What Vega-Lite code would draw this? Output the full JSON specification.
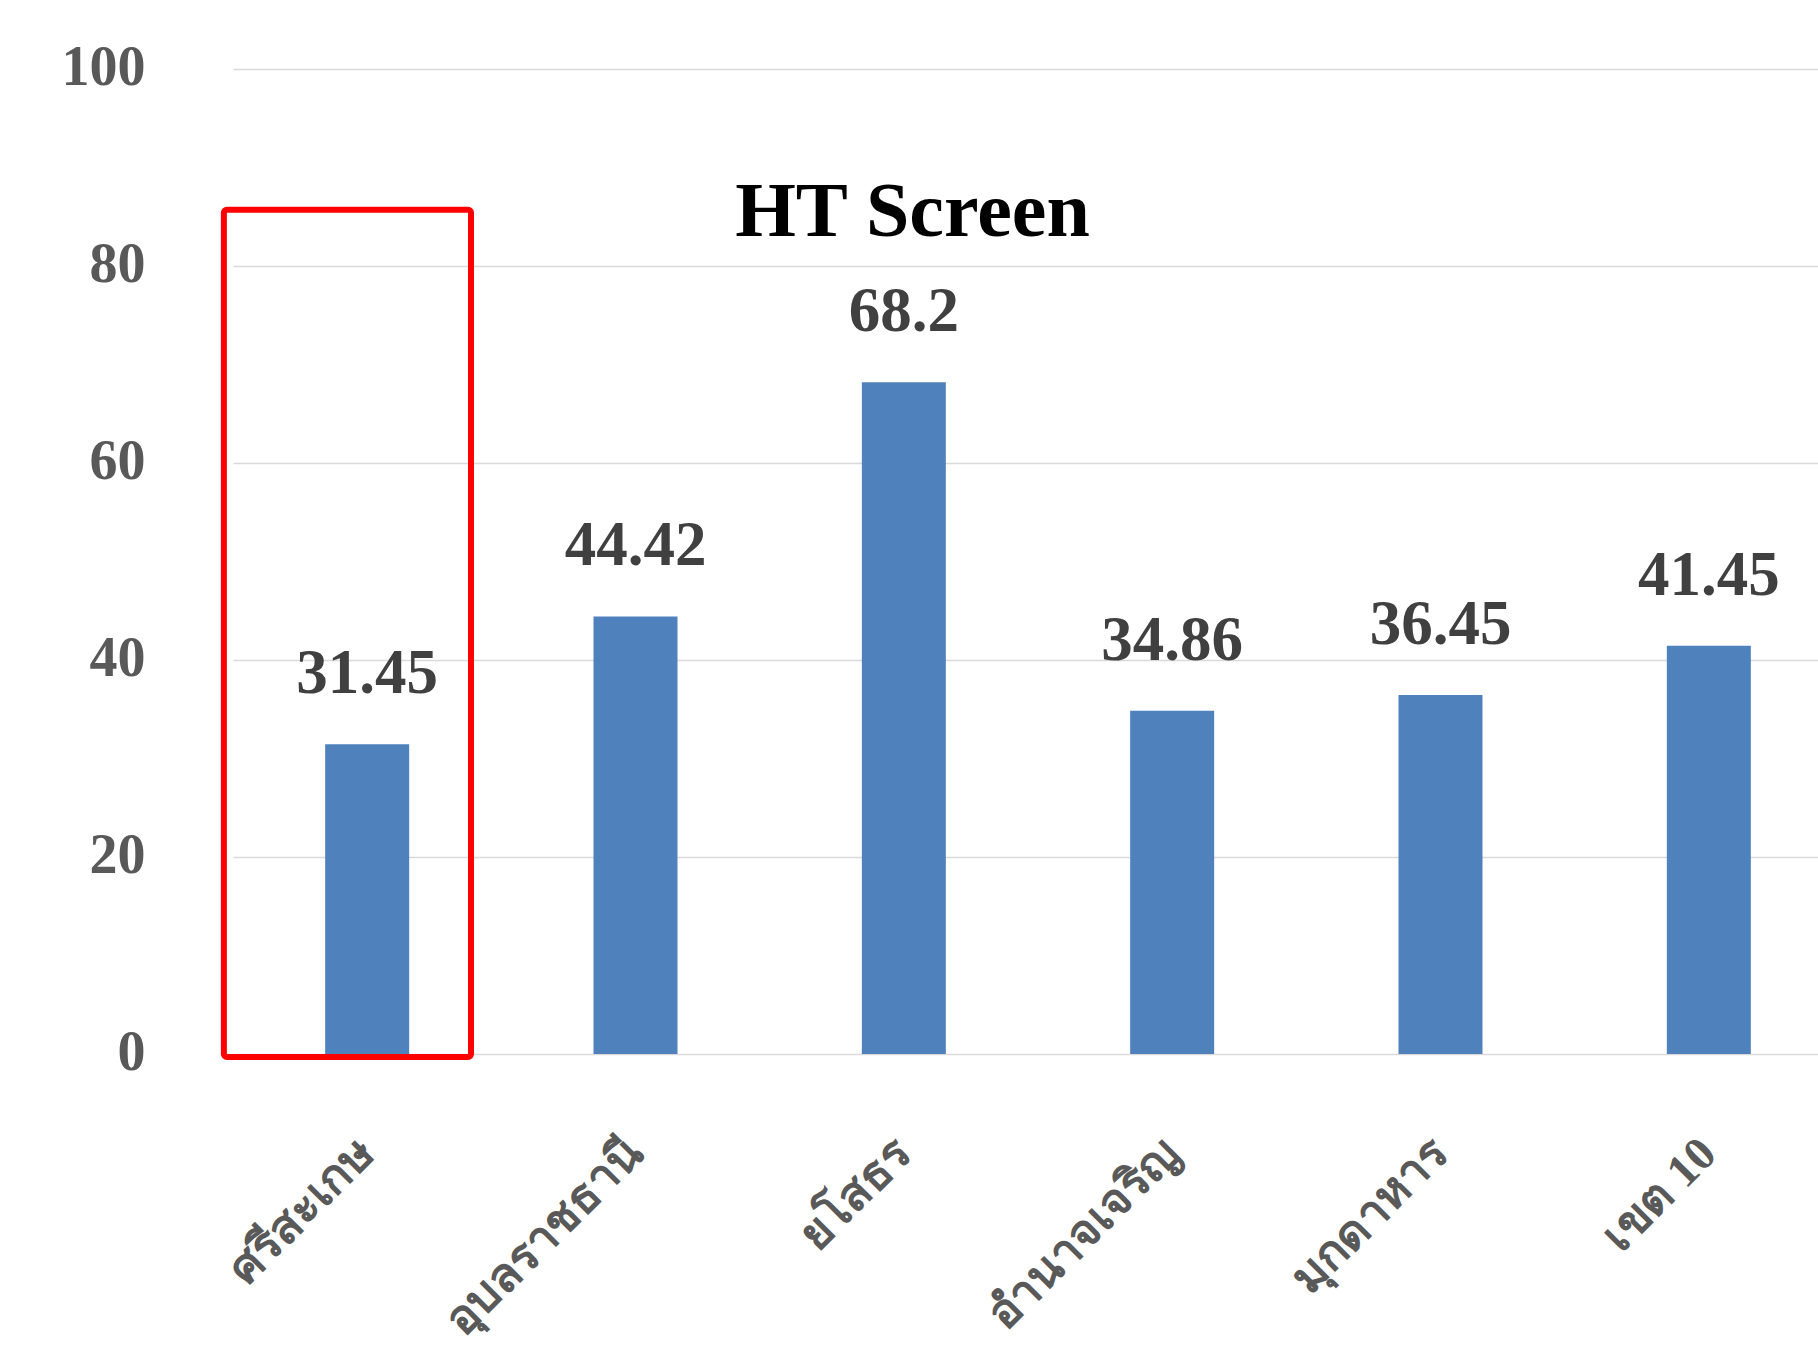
{
  "$schema": "https://vega.github.io/schema/vega-lite/v6.json",
  "autosize": {"type": "none"},
  "width": 1585,
  "height": 985,
  "padding": {"left": 233, "top": 69, "right": 0, "bottom": 297},
  "background": "white",
  "title": {
    "text": "HT Screen",
    "anchor": "middle",
    "frame": "group",
    "font": "Liberation Serif",
    "fontSize": 78,
    "fontWeight": "bold",
    "color": "#000000",
    "baseline": "alphabetic",
    "offset": 0,
    "dx": -113,
    "dy": 275
  },
  "config": {
    "view": {"stroke": null},
    "axis": {
      "domain": false,
      "ticks": false,
      "labelFont": "Liberation Serif",
      "labelFontWeight": "bold",
      "labelColor": "#595959",
      "title": null
    }
  },
  "layer": [
    {
      "data": {
        "values": [
          {"region": "ศรีสะเกษ", "value": 31.45},
          {"region": "อุบลราชธานี", "value": 44.42},
          {"region": "ยโสธร", "value": 68.2},
          {"region": "อำนาจเจริญ", "value": 34.86},
          {"region": "มุกดาหาร", "value": 36.45},
          {"region": "เขต 10", "value": 41.45}
        ]
      },
      "layer": [
        {
          "mark": {"type": "bar", "color": "#4F81BD"},
          "encoding": {
            "x": {
              "field": "region",
              "type": "nominal",
              "sort": null,
              "scale": {"range": [0, 1610], "paddingInner": 0.687, "paddingOuter": 0.3435},
              "axis": {
                "labelAngle": -45,
                "labelAlign": "right",
                "labelBaseline": "middle",
                "labelPadding": 92,
                "labelFontSize": 47,
                "labelLimit": 0,
                "grid": false
              }
            },
            "y": {
              "field": "value",
              "type": "quantitative",
              "scale": {"domain": [0, 100], "nice": false},
              "axis": {
                "values": [0, 20, 40, 60, 80, 100],
                "labelFontSize": 56,
                "labelPadding": 88,
                "labelOffset": -2,
                "grid": true,
                "gridColor": "#D9D9D9",
                "gridWidth": 1.5
              }
            }
          }
        },
        {
          "mark": {
            "type": "text",
            "font": "Liberation Serif",
            "fontWeight": "bold",
            "fontSize": 63,
            "color": "#404040",
            "baseline": "alphabetic",
            "dy": -51
          },
          "encoding": {
            "x": {"field": "region", "type": "nominal", "sort": null},
            "y": {"field": "value", "type": "quantitative"},
            "text": {"field": "value", "type": "quantitative"}
          }
        }
      ]
    },
    {
      "data": {"values": [{"left": -0.034, "right": 0.887, "top": 85.7, "bottom": -0.3}]},
      "mark": {"type": "rect", "filled": false, "stroke": "#FF0000", "strokeWidth": 6, "cornerRadius": 3, "clip": false},
      "encoding": {
        "x": {
          "field": "left",
          "type": "quantitative",
          "scale": {"domain": [0, 6], "range": [0, 1610], "zero": false, "nice": false},
          "axis": null
        },
        "x2": {"field": "right"},
        "y": {"field": "top", "type": "quantitative"},
        "y2": {"field": "bottom"}
      }
    }
  ],
  "resolve": {"scale": {"x": "independent"}}
}
